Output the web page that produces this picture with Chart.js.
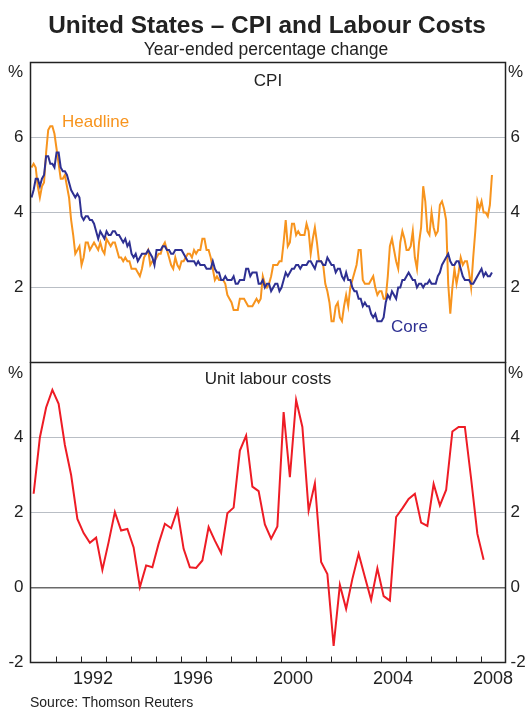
<!DOCTYPE html>
<html>
<head>
<meta charset="utf-8">
<script src="https://cdn.jsdelivr.net/npm/chart.js@4.4.1/dist/chart.umd.min.js"></script>
<style>
  body { margin: 0; background: #fff; }
  #wrap { position: relative; width: 527px; height: 709px; overflow: hidden; font-family: "Liberation Sans", Arial, sans-serif; color: #222; }
  canvas { position: absolute; left: 0; }
  .t { position: absolute; white-space: nowrap; font-size: 17px; line-height: 17px; }
  .c { transform: translateX(-50%); }
</style>
</head>
<body>
<div id="wrap">
  <canvas id="cpiChart" width="527" height="363" style="top:0;width:527px;height:363px"></canvas>
  <canvas id="ulcChart" width="527" height="347" style="top:362px;width:527px;height:347px"></canvas>

  <div class="t c" style="left:267px;top:13px;font-weight:bold;font-size:24.4px;line-height:24px">United States – CPI and Labour Costs</div>
  <div class="t c" style="left:266px;top:40.5px;font-size:17.5px">Year-ended percentage change</div>
  <div class="t" style="left:8px;top:63px">%</div>
  <div class="t" style="left:508px;top:63px">%</div>
  <div class="t" style="left:8px;top:364px">%</div>
  <div class="t" style="left:508px;top:364px">%</div>
  <div class="t c" style="left:268px;top:72px">CPI</div>
  <div class="t c" style="left:268px;top:370px">Unit labour costs</div>
  <div class="t" style="left:62px;top:113px;color:#f7941e">Headline</div>
  <div class="t" style="left:391px;top:318px;color:#2e3092">Core</div>
  <div class="t" style="left:30px;top:695px;font-size:14px;line-height:14px">Source: Thomson Reuters</div>
</div>

<script>
// monthly, Jan 1990 - Jun 2008, year-ended % change
const headline = [
  5.2, 5.3, 5.2, 4.7, 4.4, 4.7, 4.8, 5.6, 6.2, 6.3, 6.3, 6.1,
  5.7, 5.3, 4.9, 4.9, 5.0, 4.7, 4.4, 3.8, 3.4, 2.9, 3.0, 3.1,
  2.6, 2.8, 3.2, 3.2, 3.0, 3.1, 3.2, 3.1, 3.0, 3.2, 3.0, 2.9,
  3.3, 3.2, 3.1, 3.2, 3.2, 3.0, 2.8, 2.8, 2.7, 2.8, 2.7, 2.7,
  2.5, 2.5, 2.5, 2.4, 2.3, 2.5, 2.8, 2.9, 3.0, 2.6, 2.7, 2.7,
  2.8, 2.9, 2.9, 3.1, 3.2, 3.0, 2.8, 2.6, 2.5, 2.8, 2.6, 2.5,
  2.7, 2.7, 2.8, 2.9, 2.9, 2.8, 3.0, 2.9, 3.0, 3.0, 3.3, 3.3,
  3.0, 3.0, 2.8, 2.5, 2.2, 2.3, 2.2, 2.2, 2.2, 2.1, 1.8, 1.7,
  1.6, 1.4, 1.4, 1.4, 1.7, 1.7, 1.7, 1.6, 1.5, 1.5, 1.5, 1.6,
  1.7, 1.6, 1.7, 2.3, 2.1, 2.0, 2.1, 2.3, 2.6, 2.6, 2.6, 2.7,
  2.7, 3.2, 3.8, 3.1, 3.2, 3.7, 3.7, 3.4, 3.5, 3.4, 3.4, 3.4,
  3.7, 3.5, 2.9, 3.3, 3.6, 3.2, 2.7, 2.7, 2.6, 2.1, 1.9, 1.6,
  1.1, 1.1, 1.5, 1.6, 1.2, 1.1, 1.5, 1.8, 1.5, 2.0, 2.2, 2.4,
  2.6, 3.0, 3.0, 2.2, 2.1, 2.1, 2.1, 2.2, 2.3, 2.0, 1.8, 1.9,
  1.9, 1.7, 1.7, 2.3, 3.1, 3.3, 3.0, 2.7, 2.5, 3.2, 3.5, 3.3,
  3.0, 3.0, 3.1, 3.5, 2.8, 2.5, 3.2, 3.6, 4.7, 4.3, 3.5, 3.4,
  4.0, 3.6, 3.4, 3.5, 4.2, 4.3, 4.1, 3.8, 2.1, 1.3, 2.0, 2.5,
  2.1, 2.4, 2.8, 2.6, 2.7, 2.7, 2.4, 2.0, 2.8, 3.5, 4.3, 4.1,
  4.3, 4.0, 4.0, 3.9, 4.2, 5.0
];

const core = [
  4.4, 4.6, 4.9, 4.9, 4.7, 4.9, 5.0, 5.5, 5.5, 5.3, 5.3, 5.2,
  5.6, 5.6, 5.2, 5.1, 5.1, 5.0, 4.8, 4.6, 4.5, 4.4, 4.5, 4.4,
  3.9, 3.8, 3.9, 3.9, 3.8, 3.8, 3.7, 3.5, 3.3, 3.5, 3.4, 3.3,
  3.5, 3.4, 3.4, 3.5, 3.5, 3.4, 3.4, 3.3, 3.2, 3.3, 3.1, 3.2,
  2.9, 2.8, 2.9, 2.7, 2.8, 2.9, 2.9, 2.9, 3.0, 2.9, 2.8, 2.6,
  3.0, 3.0, 3.0, 3.1, 3.1, 3.0, 3.0, 2.9, 2.9, 3.0, 3.0, 3.0,
  3.0, 2.9, 2.8, 2.7, 2.7, 2.7, 2.7, 2.6, 2.7, 2.6, 2.6, 2.6,
  2.5, 2.5, 2.5, 2.7, 2.5, 2.4, 2.4, 2.2, 2.2, 2.3, 2.2, 2.2,
  2.2, 2.3, 2.1, 2.1, 2.2, 2.2, 2.2, 2.5, 2.5, 2.3, 2.4, 2.4,
  2.4, 2.1, 2.1, 2.2, 2.0, 2.1, 2.1, 1.9, 2.0, 2.1, 2.1, 1.9,
  2.0, 2.2, 2.4, 2.3, 2.4, 2.5, 2.5, 2.6, 2.6, 2.5, 2.6, 2.6,
  2.6, 2.7, 2.7, 2.6, 2.5, 2.7, 2.7, 2.7, 2.6, 2.6, 2.8, 2.7,
  2.6, 2.6, 2.4, 2.5, 2.5, 2.3, 2.2, 2.4, 2.2, 2.2, 2.0, 1.9,
  1.9, 1.7, 1.7, 1.5, 1.6, 1.5, 1.5, 1.3, 1.2, 1.3, 1.1, 1.1,
  1.1, 1.2, 1.6, 1.8, 1.7, 1.9, 1.8, 1.7, 2.0, 2.0, 2.2, 2.2,
  2.3, 2.4, 2.3, 2.2, 2.2, 2.0, 2.1, 2.1, 2.0, 2.1, 2.1, 2.2,
  2.1, 2.1, 2.1, 2.3, 2.4, 2.6, 2.7, 2.8, 2.9, 2.7, 2.6, 2.6,
  2.7, 2.7, 2.5, 2.3, 2.2, 2.2, 2.2, 2.1, 2.1, 2.2, 2.3, 2.4,
  2.5, 2.3, 2.4, 2.3, 2.3, 2.4
];

// quarterly, 1990 Q1 - 2008 Q1
const unitLabourCosts = [
  2.5, 4.0, 4.8, 5.27,
  4.9, 3.8, 3.0, 1.83,
  1.45, 1.19, 1.33, 0.47,
  1.21, 2.01, 1.52, 1.56,
  1.07, 0.01, 0.59, 0.54,
  1.17, 1.7, 1.58, 2.07,
  1.03, 0.54, 0.52, 0.72,
  1.61, 1.25, 0.92, 1.98,
  2.13, 3.65, 4.05, 2.69,
  2.57, 1.68, 1.3, 1.63,
  4.68, 2.94, 5.0, 4.28,
  2.05, 2.78, 0.68, 0.36,
  -1.56, 0.07, -0.57, 0.23,
  0.9, 0.28, -0.33, 0.51,
  -0.23, -0.35, 1.88, 2.11,
  2.36, 2.5, 1.73, 1.64,
  2.76, 2.19, 2.6, 4.16,
  4.28, 4.28, 2.9, 1.43,
  0.74
];

const yearLabels = [1992, 1996, 2000, 2004, 2008];
const firstYear = 1990;
const lastYear = 2009;

const COLORS = {
  headline: '#f7941e',
  core: '#2e3092',
  ulc: '#ee1c25',
  grid: '#b9bec5',
  zero: '#6a6a6a',
  text: '#222'
};

const FONT = '"Liberation Sans", Arial, sans-serif';

function monthly(values) {
  return values.map((v, i) => ({ x: firstYear + (i + 0.5) / 12, y: v }));
}

function quarterly(values) {
  return values.map((v, i) => ({ x: firstYear + (i + 0.5) / 4, y: v }));
}

// chart.js pads the chart area for half a tick label at each end; these panels butt together
function noPad(s) {
  s.paddingTop = 0;
  s.paddingBottom = 0;
  s.paddingLeft = 0;
  s.paddingRight = 0;
}

const framePlugin = {
  id: 'frame',
  afterDatasetsDraw(chart, args, opts) {
    const { ctx, chartArea: a } = chart;
    ctx.save();
    ctx.strokeStyle = COLORS.text;
    ctx.lineWidth = 1.5;
    ctx.strokeRect(a.left, a.top, a.right - a.left, a.bottom - a.top);
    if (opts.yearTicks) {
      const x = chart.scales.x;
      ctx.lineWidth = 1;
      ctx.beginPath();
      for (let yr = firstYear + 1; yr < lastYear; yr++) {
        const px = Math.round(x.getPixelForValue(yr)) + 0.5;
        ctx.moveTo(px, a.bottom);
        ctx.lineTo(px, a.bottom - 6);
      }
      ctx.stroke();
    }
    ctx.restore();
  }
};

function yAxes(min, max, hidden, withZero) {
  const label = v => (hidden.includes(v) ? '' : String(v));
  const common = {
    type: 'linear',
    min: min,
    max: max,
    border: { display: false },
    ticks: { stepSize: 2, color: COLORS.text, font: { family: FONT, size: 17 }, callback: label }
  };
  return {
    y: Object.assign({}, common, {
      position: 'left',
      afterFit: s => { s.width = 30.5; noPad(s); },
      ticks: Object.assign({}, common.ticks, { padding: 7 }),
      grid: {
        drawTicks: false,
        color: c => {
          const v = c.tick.value;
          if (v === min || v === max) return 'rgba(0,0,0,0)';
          return (withZero && v === 0) ? COLORS.zero : COLORS.grid;
        },
        lineWidth: c => (withZero && c.tick.value === 0 ? 1.5 : 1)
      }
    }),
    yR: Object.assign({}, common, {
      position: 'right',
      afterFit: s => { s.width = 21.5; noPad(s); },
      ticks: Object.assign({}, common.ticks, { padding: 5 }),
      grid: { display: false, drawTicks: false }
    })
  };
}

const baseOptions = {
  responsive: false,
  animation: false,
  events: [],
  plugins: { legend: { display: false }, tooltip: { enabled: false } },
  elements: { point: { radius: 0 }, line: { tension: 0, borderWidth: 2 } }
};

new Chart(document.getElementById('cpiChart').getContext('2d'), {
  type: 'line',
  data: {
    datasets: [
      { label: 'Core', data: monthly(core), borderColor: COLORS.core, yAxisID: 'y' },
      { label: 'Headline', data: monthly(headline), borderColor: COLORS.headline, yAxisID: 'y' }
    ]
  },
  options: Object.assign({}, baseOptions, {
    layout: { padding: { top: 62.5, bottom: 0.5, left: 0, right: 0 } },
    scales: Object.assign({
      x: { type: 'linear', min: firstYear, max: lastYear, display: false }
    }, yAxes(0, 8, [0, 8], false)),
    plugins: Object.assign({}, baseOptions.plugins, { frame: { yearTicks: false } })
  }),
  plugins: [framePlugin]
});

new Chart(document.getElementById('ulcChart').getContext('2d'), {
  type: 'line',
  data: {
    datasets: [
      { label: 'Unit labour costs', data: quarterly(unitLabourCosts), borderColor: COLORS.ulc, yAxisID: 'y' }
    ]
  },
  options: Object.assign({}, baseOptions, {
    layout: { padding: { top: 0.5, bottom: 0, left: 0, right: 0 } },
    scales: Object.assign({
      x: {
        type: 'linear',
        min: firstYear,
        max: lastYear,
        border: { display: false },
        grid: { display: false, drawTicks: false },
        afterFit: s => { s.height = 46.5; noPad(s); },
        afterBuildTicks: s => { s.ticks = yearLabels.map(y => ({ value: y + 0.5 })); },
        ticks: {
          autoSkip: false,
          maxRotation: 0,
          padding: 5.5,
          color: COLORS.text,
          font: { family: FONT, size: 18 },
          callback: v => String(Math.floor(v))
        }
      }
    }, yAxes(-2, 6, [6], true)),
    plugins: Object.assign({}, baseOptions.plugins, { frame: { yearTicks: true } })
  }),
  plugins: [framePlugin]
});
</script>
</body>
</html>
